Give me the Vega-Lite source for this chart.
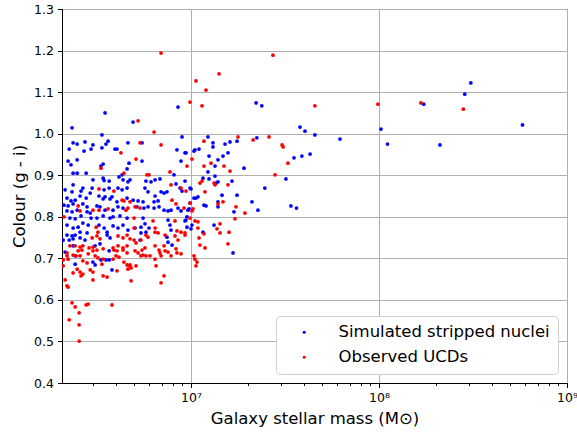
{
"$schema": "https://vega.github.io/schema/vega-lite/v6.json",
"width": 505, "height": 374,
"autosize": {"type": "none"},
"padding": {"left": 62, "top": 9, "right": 10, "bottom": 50},
"config": {"font": "DejaVu Sans", "view": {"stroke": "#000000", "strokeWidth": 1}},
"encoding": {
 "x": {"field": "m", "type": "quantitative",
  "scale": {"type": "log", "domain": [2060000, 1000000000], "nice": false},
  "axis": {"title": "Galaxy stellar mass (M⊙)",
   "values": [3000000,4000000,5000000,6000000,7000000,8000000,9000000,10000000,20000000,30000000,40000000,50000000,60000000,70000000,80000000,90000000,100000000,200000000,300000000,400000000,500000000,600000000,700000000,800000000,900000000,1000000000],
   "labelExpr": "datum.value==10000000?'10⁷':datum.value==100000000?'10⁸':datum.value==1000000000?'10⁹':''",
   "labelOverlap": false, "labelFlush": false, "labelBound": false,
   "grid": true, "gridColor": "#b0b0b0", "gridWidth": 1,
   "gridOpacity": {"condition": {"test": "datum.value==10000000||datum.value==100000000||datum.value==1000000000", "value": 1}, "value": 0},
   "tickSize": {"condition": {"test": "datum.value==10000000||datum.value==100000000||datum.value==1000000000", "value": 4.5}, "value": 2.5},
   "tickColor": "#000000", "domainColor": "#000000", "labelColor": "#000000", "labelFontSize": 12.5, "labelPadding": 4,
   "titleFontSize": 16.5, "titleFontWeight": "normal", "titleColor": "#000000", "titlePadding": 6}},
 "y": {"field": "c", "type": "quantitative",
  "scale": {"domain": [0.4, 1.3], "nice": false, "zero": false},
  "axis": {"title": "Colour (g - i)", "values": [0.4,0.5,0.6,0.7,0.8,0.9,1.0,1.1,1.2,1.3], "format": ".1f",
   "grid": true, "gridColor": "#b0b0b0", "gridWidth": 1, "tickSize": 4.5, "tickColor": "#000000", "domainColor": "#000000",
   "labelColor": "#000000", "labelFontSize": 12.5, "labelPadding": 4,
   "titleFontSize": 16.5, "titleFontWeight": "normal", "titleColor": "#000000", "titlePadding": 6}}
},
"layer": [
 {"data": {"values": [
{"m":8.53e6,"c":1.064},{"m":3.49e6,"c":1.050},{"m":4.92e6,"c":1.028},{"m":2.33e6,"c":1.014},{"m":3.36e6,"c":0.997},{"m":8.96e6,"c":0.992},{"m":2.36e6,"c":0.978},{"m":2.48e6,"c":0.975},{"m":2.73e6,"c":0.980},{"m":3.01e6,"c":0.973},{"m":2.94e6,"c":0.963},{"m":3.62e6,"c":0.982},{"m":3.53e6,"c":0.975},{"m":3.36e6,"c":0.966},{"m":4.62e6,"c":0.978},{"m":5.49e6,"c":0.978},{"m":2.25e6,"c":0.963},{"m":2.70e6,"c":0.958},{"m":3.94e6,"c":0.963},{"m":4.04e6,"c":0.963},{"m":8.42e6,"c":0.961},{"m":9.41e6,"c":0.954},{"m":1.037e7,"c":0.958},{"m":2.22e6,"c":0.934},{"m":2.30e6,"c":0.925},{"m":2.48e6,"c":0.937},{"m":4.68e6,"c":0.929},{"m":5.49e6,"c":0.934},{"m":8.85e6,"c":0.934},{"m":3.41e6,"c":0.927},{"m":3.32e6,"c":0.922},{"m":4.57e6,"c":0.915},{"m":2.36e6,"c":0.905},{"m":2.48e6,"c":0.905},{"m":2.77e6,"c":0.905},{"m":4.30e6,"c":0.901},{"m":8.12e6,"c":0.901},
{"m":3.01e6,"c":0.889},{"m":3.41e6,"c":0.893},{"m":3.45e6,"c":0.887},{"m":3.67e6,"c":0.886},{"m":4.14e6,"c":0.896},{"m":4.35e6,"c":0.889},{"m":4.62e6,"c":0.884},{"m":2.14e6,"c":0.865},{"m":2.36e6,"c":0.877},{"m":2.33e6,"c":0.860},{"m":2.60e6,"c":0.862},{"m":2.66e6,"c":0.869},{"m":2.98e6,"c":0.869},{"m":2.91e6,"c":0.857},{"m":3.45e6,"c":0.865},{"m":3.67e6,"c":0.869},{"m":4.09e6,"c":0.869},{"m":4.30e6,"c":0.865},{"m":4.57e6,"c":0.869},{"m":2.19e6,"c":0.845},{"m":2.30e6,"c":0.838},{"m":2.42e6,"c":0.840},{"m":2.57e6,"c":0.850},{"m":2.77e6,"c":0.845},{"m":3.24e6,"c":0.850},{"m":3.41e6,"c":0.843},{"m":3.49e6,"c":0.848},{"m":3.71e6,"c":0.843},{"m":3.80e6,"c":0.848},{"m":4.04e6,"c":0.836},{"m":4.57e6,"c":0.845},{"m":2.11e6,"c":0.828},{"m":2.22e6,"c":0.826},{"m":2.36e6,"c":0.831},{"m":2.66e6,"c":0.831},{"m":2.80e6,"c":0.824},{"m":3.16e6,"c":0.826},{"m":3.28e6,"c":0.824},{"m":3.49e6,"c":0.816},{"m":3.85e6,"c":0.816},{"m":4.09e6,"c":0.824},{"m":4.35e6,"c":0.821},{"m":2.19e6,"c":0.814},{"m":2.33e6,"c":0.812},{"m":2.48e6,"c":0.816},{"m":2.80e6,"c":0.812},{"m":2.91e6,"c":0.809},{"m":2.27e6,"c":0.797},{"m":2.42e6,"c":0.795},{"m":2.60e6,"c":0.802},{"m":2.94e6,"c":0.797},{"m":3.16e6,"c":0.797},{"m":3.41e6,"c":0.802},{"m":3.71e6,"c":0.797},{"m":3.85e6,"c":0.800},{"m":4.19e6,"c":0.802},{"m":4.57e6,"c":0.797},{"m":2.19e6,"c":0.780},{"m":2.36e6,"c":0.773},{"m":2.51e6,"c":0.775},{"m":2.66e6,"c":0.785},{"m":2.84e6,"c":0.780},{"m":3.24e6,"c":0.780},{"m":3.45e6,"c":0.773},{"m":3.85e6,"c":0.778},{"m":4.09e6,"c":0.773},{"m":4.35e6,"c":0.780},{"m":4.62e6,"c":0.768},{"m":2.57e6,"c":0.763},{"m":2.80e6,"c":0.761},{"m":3.58e6,"c":0.763},
{"m":4.74e6,"c":0.889},{"m":5.76e6,"c":0.886},{"m":6.13e6,"c":0.884},{"m":6.44e6,"c":0.889},{"m":6.84e6,"c":0.891},{"m":8.32e6,"c":0.879},{"m":8.74e6,"c":0.869},{"m":8.96e6,"c":0.862},{"m":9.88e6,"c":0.869},{"m":5.69e6,"c":0.869},{"m":5.91e6,"c":0.860},{"m":6.93e6,"c":0.860},{"m":7.19e6,"c":0.857},{"m":7.45e6,"c":0.860},{"m":6.44e6,"c":0.850},{"m":1.063e7,"c":0.845},{"m":4.92e6,"c":0.840},{"m":5.23e6,"c":0.838},{"m":5.56e6,"c":0.836},{"m":6.36e6,"c":0.836},{"m":6.68e6,"c":0.838},{"m":9.88e6,"c":0.833},{"m":5.16e6,"c":0.824},{"m":5.62e6,"c":0.821},{"m":5.91e6,"c":0.824},{"m":6.36e6,"c":0.821},{"m":6.76e6,"c":0.824},{"m":7.19e6,"c":0.816},{"m":7.55e6,"c":0.814},{"m":7.83e6,"c":0.816},{"m":8.53e6,"c":0.821},{"m":8.85e6,"c":0.814},{"m":9.64e6,"c":0.816},{"m":5.56e6,"c":0.797},{"m":7.55e6,"c":0.792},{"m":9.41e6,"c":0.792},{"m":5.04e6,"c":0.773},{"m":5.42e6,"c":0.775},{"m":5.69e6,"c":0.783},{"m":5.98e6,"c":0.773},{"m":7.73e6,"c":0.780},{"m":7.83e6,"c":0.768},{"m":9.52e6,"c":0.775},{"m":1.0e7,"c":0.771},{"m":5.42e6,"c":0.761},{"m":5.76e6,"c":0.763},
{"m":2.19e6,"c":0.756},{"m":2.33e6,"c":0.754},{"m":2.42e6,"c":0.756},{"m":2.36e6,"c":0.747},{"m":2.25e6,"c":0.744},{"m":2.09e6,"c":0.744},{"m":2.57e6,"c":0.749},{"m":2.73e6,"c":0.744},{"m":3.58e6,"c":0.756},{"m":3.71e6,"c":0.749},{"m":2.36e6,"c":0.730},{"m":3.28e6,"c":0.735},{"m":3.09e6,"c":0.730},{"m":3.67e6,"c":0.718},{"m":2.42e6,"c":0.706},{"m":3.32e6,"c":0.696},{"m":3.53e6,"c":0.696},{"m":3.67e6,"c":0.696},{"m":2.42e6,"c":0.686},{"m":3.01e6,"c":0.691},{"m":3.09e6,"c":0.684},{"m":3.80e6,"c":0.672},
{"m":5.36e6,"c":0.744},{"m":7.45e6,"c":0.751},{"m":7.55e6,"c":0.739},{"m":7.93e6,"c":0.732},
{"m":2.22e7,"c":1.074},{"m":2.38e7,"c":1.067},{"m":3.80e7,"c":1.016},{"m":4.04e7,"c":1.006},{"m":1.025e8,"c":1.011},{"m":4.56e7,"c":0.997},{"m":6.2e7,"c":0.987},{"m":1.231e7,"c":0.992},{"m":2.24e7,"c":0.990},{"m":1.757e7,"c":0.982},{"m":1.612e7,"c":0.980},{"m":1.517e7,"c":0.975},{"m":1.309e7,"c":0.978},{"m":1.309e7,"c":0.968},{"m":1.050e7,"c":0.961},{"m":1.103e7,"c":0.963},{"m":9.29e6,"c":0.954},{"m":1.247e7,"c":0.946},{"m":1.392e7,"c":0.937},{"m":1.480e7,"c":0.946},{"m":1.573e7,"c":0.954},{"m":3.53e7,"c":0.942},{"m":3.89e7,"c":0.946},{"m":4.30e7,"c":0.951},{"m":1.342e7,"c":0.922},{"m":1.913e7,"c":0.917},{"m":3.20e7,"c":0.891},{"m":1.231e7,"c":0.908},{"m":1.342e7,"c":0.898},{"m":1.158e7,"c":0.893},{"m":1.247e7,"c":0.891},{"m":9.29e6,"c":0.886},{"m":1.0e7,"c":0.867},{"m":1.392e7,"c":0.884},{"m":1.358e7,"c":0.881},{"m":1.652e7,"c":0.886},{"m":2.47e7,"c":0.869},{"m":1.037e7,"c":0.845},{"m":1.089e7,"c":0.848},{"m":1.757e7,"c":0.852},{"m":1.462e7,"c":0.852},{"m":1.172e7,"c":0.828},{"m":1.202e7,"c":0.826},{"m":1.392e7,"c":0.836},{"m":1.392e7,"c":0.824},{"m":2.11e7,"c":0.836},{"m":1.693e7,"c":0.812},{"m":2.27e7,"c":0.816},{"m":3.40e7,"c":0.826},{"m":3.64e7,"c":0.821},{"m":9.76e6,"c":0.819},{"m":9.52e6,"c":0.800},{"m":9.29e6,"c":0.790},{"m":1.012e7,"c":0.780},{"m":1.326e7,"c":0.780},{"m":1.158e7,"c":0.763},
{"m":3.08e8,"c":1.122},{"m":2.86e8,"c":1.095},{"m":1.73e8,"c":1.071},{"m":5.8e8,"c":1.021},{"m":1.11e8,"c":0.975},{"m":2.11e8,"c":0.973},
{"m":1.673e7,"c":0.713},{"m":2.14e6,"c":0.715}
 ]},
 "mark": {"type": "point", "filled": true, "shape": "circle", "size": 14, "opacity": 1, "clip": true},
 "encoding": {"color": {"datum": "Simulated stripped nuclei",
   "scale": {"domain": ["Simulated stripped nuclei", "Observed UCDs"], "range": ["#0000ff", "#ff0000"]},
   "legend": {"title": null, "orient": "bottom-right", "offset": 9, "padding": 8, "symbolOffset": 12, "labelOffset": 26,
     "labelFontSize": 16.5, "labelLimit": 400, "labelColor": "#000000", "symbolSize": 10, "symbolType": "circle", "rowPadding": 8,
     "strokeColor": "#d0d0d0", "fillColor": "#ffffff", "cornerRadius": 4, "symbolStrokeWidth": 0}}}},
 {"data": {"values": [
{"m":9.88e6,"c":1.076},{"m":5.23e6,"c":1.031},{"m":6.36e6,"c":1.004},{"m":5.36e6,"c":0.978},{"m":6.93e6,"c":0.973},{"m":4.24e6,"c":0.954},{"m":5.10e6,"c":0.939},{"m":1.012e7,"c":0.939},{"m":9.52e6,"c":0.922},{"m":3.32e6,"c":0.917},{"m":4.40e6,"c":0.905},{"m":5.83e6,"c":0.901},{"m":5.98e6,"c":0.901},{"m":7.73e6,"c":0.908},{"m":6.93e6,"c":1.194},
{"m":3.24e6,"c":0.867},{"m":3.89e6,"c":0.862},{"m":4.30e6,"c":0.840},{"m":4.40e6,"c":0.838},{"m":2.51e6,"c":0.826},{"m":3.01e6,"c":0.816},{"m":3.24e6,"c":0.816},{"m":3.62e6,"c":0.819},{"m":4.51e6,"c":0.816},{"m":4.62e6,"c":0.821},{"m":2.57e6,"c":0.814},{"m":2.11e6,"c":0.800},{"m":3.13e6,"c":0.775},{"m":3.20e6,"c":0.763},
{"m":7.83e6,"c":0.877},{"m":8.85e6,"c":0.869},{"m":9.41e6,"c":0.862},{"m":4.74e6,"c":0.836},{"m":7.93e6,"c":0.840},{"m":8.32e6,"c":0.831},{"m":5.04e6,"c":0.824},{"m":5.36e6,"c":0.821},{"m":9.18e6,"c":0.821},{"m":1.025e7,"c":0.819},{"m":4.98e6,"c":0.797},{"m":6.28e6,"c":0.790},{"m":8.22e6,"c":0.790},{"m":1.050e7,"c":0.790},{"m":4.98e6,"c":0.773},{"m":6.44e6,"c":0.773},{"m":8.42e6,"c":0.766},{"m":8.85e6,"c":0.763},{"m":1.089e7,"c":0.773},{"m":6.44e6,"c":0.763},{"m":6.68e6,"c":0.761},
{"m":2.98e6,"c":0.749},{"m":3.16e6,"c":0.754},{"m":3.28e6,"c":0.747},{"m":4.09e6,"c":0.754},{"m":4.35e6,"c":0.749},{"m":4.57e6,"c":0.756},{"m":2.27e6,"c":0.730},{"m":2.42e6,"c":0.730},{"m":2.57e6,"c":0.727},{"m":2.66e6,"c":0.730},{"m":2.87e6,"c":0.725},{"m":3.01e6,"c":0.727},{"m":3.41e6,"c":0.723},{"m":3.85e6,"c":0.725},{"m":4.09e6,"c":0.730},{"m":4.35e6,"c":0.725},{"m":4.57e6,"c":0.730},{"m":2.19e6,"c":0.713},{"m":2.36e6,"c":0.708},{"m":2.51e6,"c":0.718},{"m":2.63e6,"c":0.720},{"m":2.84e6,"c":0.711},{"m":3.01e6,"c":0.718},{"m":3.16e6,"c":0.720},{"m":3.89e6,"c":0.720},{"m":4.04e6,"c":0.718},{"m":4.35e6,"c":0.720},{"m":4.57e6,"c":0.713},{"m":2.19e6,"c":0.706},{"m":2.45e6,"c":0.706},{"m":2.57e6,"c":0.706},{"m":3.09e6,"c":0.706},{"m":3.20e6,"c":0.701},{"m":3.41e6,"c":0.698},{"m":3.85e6,"c":0.698},{"m":3.99e6,"c":0.706},{"m":4.14e6,"c":0.703},{"m":4.40e6,"c":0.691},{"m":4.57e6,"c":0.684},{"m":4.68e6,"c":0.682},{"m":2.09e6,"c":0.696},{"m":2.22e6,"c":0.698},{"m":2.66e6,"c":0.694},{"m":2.80e6,"c":0.689},{"m":3.36e6,"c":0.686},{"m":2.09e6,"c":0.682},{"m":2.48e6,"c":0.674},{"m":2.36e6,"c":0.665},{"m":2.57e6,"c":0.667},{"m":2.66e6,"c":0.662},{"m":2.60e6,"c":0.658},{"m":2.91e6,"c":0.672},{"m":3.01e6,"c":0.667},{"m":3.41e6,"c":0.658},{"m":3.58e6,"c":0.655},{"m":4.04e6,"c":0.670},{"m":2.19e6,"c":0.634},{"m":4.62e6,"c":0.674},
{"m":4.74e6,"c":0.747},{"m":4.98e6,"c":0.744},{"m":5.10e6,"c":0.737},{"m":5.42e6,"c":0.744},{"m":5.76e6,"c":0.756},{"m":5.91e6,"c":0.751},{"m":7.28e6,"c":0.756},{"m":8.22e6,"c":0.754},{"m":8.53e6,"c":0.744},{"m":9.29e6,"c":0.756},{"m":6.44e6,"c":0.730},{"m":6.76e6,"c":0.720},{"m":7.19e6,"c":0.730},{"m":7.28e6,"c":0.718},{"m":5.04e6,"c":0.718},{"m":5.23e6,"c":0.713},{"m":5.49e6,"c":0.720},{"m":5.69e6,"c":0.725},{"m":6.84e6,"c":0.713},{"m":6.93e6,"c":0.706},{"m":7.55e6,"c":0.715},{"m":7.83e6,"c":0.706},{"m":8.32e6,"c":0.723},{"m":8.42e6,"c":0.713},{"m":8.85e6,"c":0.711},{"m":5.42e6,"c":0.706},{"m":5.56e6,"c":0.708},{"m":5.76e6,"c":0.706},{"m":6.05e6,"c":0.706},{"m":6.44e6,"c":0.698},{"m":1.037e7,"c":0.706},{"m":1.050e7,"c":0.698},{"m":1.076e7,"c":0.691},{"m":4.74e6,"c":0.684},{"m":4.80e6,"c":0.677},{"m":5.10e6,"c":0.682},{"m":6.52e6,"c":0.682},{"m":7.19e6,"c":0.658},{"m":4.80e6,"c":0.646},{"m":6.93e6,"c":0.641},{"m":1.063e7,"c":0.682},
{"m":2.14e6,"c":0.648},{"m":3.01e6,"c":0.648},{"m":2.22e6,"c":0.631},{"m":2.33e6,"c":0.593},{"m":2.42e6,"c":0.583},{"m":2.77e6,"c":0.588},{"m":2.84e6,"c":0.590},{"m":3.80e6,"c":0.588},{"m":2.54e6,"c":0.569},{"m":2.25e6,"c":0.552},{"m":2.54e6,"c":0.540},{"m":2.54e6,"c":0.501},
{"m":2.73e7,"c":1.189},{"m":1.409e7,"c":1.144},{"m":1.063e7,"c":1.127},{"m":1.202e7,"c":1.105},{"m":1.144e7,"c":1.067},{"m":4.56e7,"c":1.067},{"m":9.87e7,"c":1.071},{"m":1.778e7,"c":0.992},{"m":2.60e7,"c":0.992},{"m":1.172e7,"c":0.982},{"m":2.14e7,"c":0.985},{"m":3.05e7,"c":0.973},{"m":3.09e7,"c":0.968},{"m":3.28e7,"c":0.929},{"m":1.172e7,"c":0.922},{"m":1.278e7,"c":0.929},{"m":1.498e7,"c":0.922},{"m":1.612e7,"c":0.910},{"m":2.80e7,"c":0.901},{"m":1.116e7,"c":0.881},{"m":1.144e7,"c":0.886},{"m":1.187e7,"c":0.860},{"m":1.326e7,"c":0.881},{"m":1.342e7,"c":0.877},{"m":1.573e7,"c":0.877},{"m":1.392e7,"c":0.831},{"m":1.480e7,"c":0.836},{"m":9.88e6,"c":0.833},{"m":1.735e7,"c":0.824},{"m":1.936e7,"c":0.809},{"m":1.012e7,"c":0.814},{"m":9.88e6,"c":0.797},{"m":1.089e7,"c":0.788},{"m":1.714e7,"c":0.795},{"m":1.427e7,"c":0.783},{"m":1.375e7,"c":0.771},{"m":1.427e7,"c":0.761},{"m":1.593e7,"c":0.763},{"m":1.172e7,"c":0.759},{"m":1.103e7,"c":0.749},{"m":9.29e6,"c":0.761},
{"m":1.67e8,"c":1.074},{"m":2.81e8,"c":1.059},
{"m":1.116e7,"c":0.732},{"m":1.187e7,"c":0.725},{"m":1.573e7,"c":0.735}
 ]},
 "mark": {"type": "point", "filled": true, "shape": "circle", "size": 14, "opacity": 1, "clip": true},
 "encoding": {"color": {"datum": "Observed UCDs"}}}
]
}
